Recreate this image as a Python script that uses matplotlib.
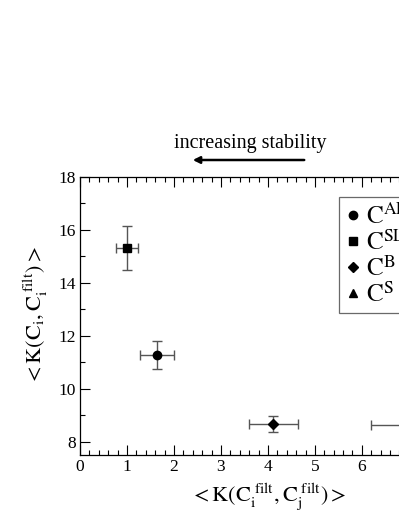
import matplotlib
matplotlib.use("Agg")
import matplotlib.pyplot as plt
from matplotlib.lines import Line2D
from matplotlib.ticker import MultipleLocator

plt.rcParams['font.family'] = ['Liberation Serif', 'DejaVu Serif']
plt.rcParams['mathtext.fontset'] = 'stix'

# data
labels = [r'$\mathrm{C}^{\mathrm{AL}}$', r'$\mathrm{C}^{\mathrm{SL}}$',
          r'$\mathrm{C}^{\mathrm{B}}$', r'$\mathrm{C}^{\mathrm{S}}$']
markers = ['o', 's', 'D', '^']
x_vals = [1.64, 1.00, 4.11, 7.10]
x_errs = [0.36, 0.23, 0.52, 0.90]
y_vals = [11.27, 15.33, 8.66, 8.62]
y_errs = [0.52, 0.83, 0.30, 0.25]

fig = plt.figure(figsize=(3.99, 5.16), dpi=100)
ax = fig.add_axes([0.2005, 0.1182, 0.942, 0.539])

handles = []
for xv, xe, yv, ye, m, lab in zip(x_vals, x_errs, y_vals, y_errs, markers, labels):
    ms = 5 if m == 'D' else 6
    ax.errorbar(xv, yv, xerr=xe, yerr=ye, fmt=m, color='black', ms=ms,
                ecolor='#555555', elinewidth=1.0, capsize=3.5, capthick=1.0)
    handles.append(Line2D([], [], marker=m, ls='none', color='black', ms=ms, label=lab))

ax.set_xlim(0, 8)
ax.set_ylim(7.5, 18)
ax.xaxis.set_major_locator(MultipleLocator(1))
ax.xaxis.set_minor_locator(MultipleLocator(0.2))
ax.yaxis.set_major_locator(MultipleLocator(2))
ax.yaxis.set_minor_locator(MultipleLocator(1))
ax.tick_params(which='both', direction='in', top=True, right=True,
               labelsize=12.5, width=0.8, pad=3)
ax.tick_params(which='major', length=7)
ax.tick_params(which='minor', length=3.5)
for s in ax.spines.values():
    s.set_linewidth(0.9)

ax.set_xlabel(r'$<\mathrm{K}(\mathrm{C}_{\mathrm{i}}^{\ \mathrm{filt}},\mathrm{C}_{\mathrm{j}}^{\ \mathrm{filt}})>$',
              fontsize=16, labelpad=4)
ax.set_ylabel(r'$<\mathrm{K}(\mathrm{C}_{\mathrm{i}},\mathrm{C}_{\mathrm{i}}^{\ \mathrm{filt}})>$',
              fontsize=16, labelpad=6)

leg = ax.legend(handles=handles, loc='upper left', bbox_to_anchor=(0.689, 0.928),
                fontsize=18, frameon=True, fancybox=False, edgecolor='#444444',
                handletextpad=0.25, borderpad=0.25, labelspacing=0.05,
                handlelength=0.6, borderaxespad=0)
leg.get_frame().set_linewidth(0.9)

# annotation above the plot
fig.text(0.627, 0.722, 'increasing stability', ha='center', va='center', fontsize=14.5)
ax.annotate('', xy=(190 / 399, 1 - 160 / 516), xytext=(307 / 399, 1 - 160 / 516),
            xycoords='figure fraction', textcoords='figure fraction',
            arrowprops=dict(arrowstyle='-|>', color='black', lw=1.8,
                            mutation_scale=10))

fig.savefig('out.png', dpi=100)
